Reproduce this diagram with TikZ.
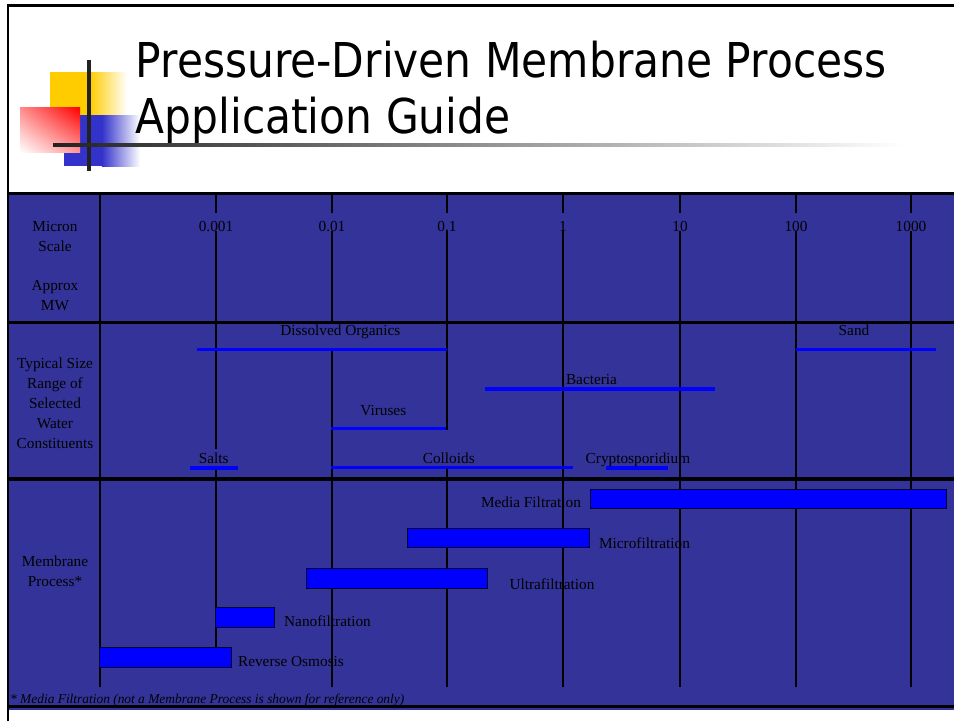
\documentclass[tikz,border=0pt]{standalone}
\usepackage{fontspec}
\usetikzlibrary{shadings}
\setmainfont{Liberation Serif}
\newfontfamily\titlefont[FakeStretch=0.883]{DejaVu Sans}
\definecolor{bg}{HTML}{333399}
\definecolor{barblue}{HTML}{0000FF}
\definecolor{txt}{HTML}{000000}
\definecolor{logoY}{HTML}{FFCC00}
\definecolor{logoB}{HTML}{3333CC}
\definecolor{logoR}{HTML}{FF0000}
\definecolor{logobar}{HTML}{222222}
\begin{document}
\begin{tikzpicture}[x=1pt,y=-1pt,
  lab/.style={font=\fontsize{15.3}{19.5}\selectfont, text=txt, inner sep=0pt, anchor=base},
  gridline/.style={line width=2.3pt, black},
  rowline/.style={line width=3pt, black},
  rng/.style={line width=3.2pt, barblue},
  proc/.style={fill=barblue, draw=black!80!blue, line width=0.9pt},
  ttl/.style={font=\titlefont\fontsize{48}{57}\selectfont, text=black, inner sep=0pt, anchor=base west}]
\useasboundingbox (0,0) rectangle (954,721);
\fill[white] (0,0) rectangle (954,721);

% logo
\fill[logoY] (50,72) rectangle (90,115);
\shade[left color=logoY, right color=white] (89.9,72) rectangle (127,115);
\fill[logoB] (64,115) rectangle (102,166);
\shade[left color=logoB, right color=white] (101.9,115) rectangle (140,166);
\shade[upper left=logoR!45, upper right=logoR, lower left=white, lower right=logoR!40] (20,107.7) rectangle (80,152.7);
\fill[logobar] (87.3,60) rectangle (90.7,171);
\shade[left color=logobar, right color=white] (53,143.3) rectangle (905,146.7);

% title
\node[ttl] (t1) at (135.5,77) {Pressure-Driven Membrane Process};
\node[ttl] (t2) at (135.5,133) {Application Guide};

% table background
\fill[bg] (9.3,193) rectangle (954,710.3);

% vertical grid lines
\foreach \x in {216,332,447,563,680,796,911} \draw[gridline] (\x,193.5) -- (\x,213);
\draw[gridline] (216,231) -- (216,449);
\draw[gridline] (216,466) -- (216,647);
\draw[gridline] (332,231) -- (332,323);
\draw[gridline] (332,348) -- (332,687);
\draw[gridline] (447,231) -- (447,430);
\draw[gridline] (447,466) -- (447,687);
\foreach \x in {563,680,796,911} \draw[gridline] (\x,231) -- (\x,687);
\draw[line width=2.7pt] (100,193.5) -- (100,687);

% horizontal row lines
\draw[rowline] (8,193.5) -- (954,193.5);
\draw[rowline] (8,322.3) -- (954,322.3);
\draw[line width=4pt] (8,478.7) -- (954,478.7);
\draw[rowline] (8,706) -- (954,706);

% slide frame
\draw[line width=2.7pt, miter limit=10] (8,721) -- (8,5.3) -- (954,5.3);

% row headers
\node[lab] (h1a) at (55,231.5) {Micron};
\node[lab] (h1b) at (55,251) {Scale};
\node[lab] (h1c) at (55,290.5) {Approx};
\node[lab] (h1d) at (55,310) {MW};
\node[lab] (h2a) at (55,368.3) {Typical Size};
\node[lab] (h2b) at (55,388.3) {Range of};
\node[lab] (h2c) at (55,408.3) {Selected};
\node[lab] (h2d) at (55,428.3) {Water};
\node[lab] (h2e) at (55,448.3) {Constituents};
\node[lab] (h3a) at (55,566.7) {Membrane};
\node[lab] (h3b) at (55,586) {Process*};

% scale
\node[lab] (s1) at (216,231.5) {0.001};
\node[lab] (s2) at (332,231.5) {0.01};
\node[lab] (s3) at (447,231.5) {0.1};
\node[lab] (s4) at (563,231.5) {1};
\node[lab] (s5) at (680,231.5) {10};
\node[lab] (s6) at (796,231.5) {100};
\node[lab] (s7) at (911,231.5) {1000};

% constituents
\draw[rng] (197,349.7) -- (447,349.7);
\node[lab] (c1) at (340.3,335) {Dissolved Organics};
\draw[rng] (796,349.7) -- (936,349.7);
\node[lab] (c2) at (854,335) {Sand};
\draw[rng] (485,389) -- (715,389);
\node[lab] (c3) at (591.5,384) {Bacteria};
\draw[rng] (331,428.7) -- (446,428.7);
\node[lab] (c4) at (383.3,415.7) {Viruses};
\draw[rng] (190,468) -- (238,468);
\node[lab] (c5) at (213.8,463.3) {Salts};
\draw[rng] (331,467.2) -- (572.7,467.2);
\node[lab] (c6) at (448.8,463.3) {Colloids};
\draw[rng] (606,468) -- (668,468);
\node[lab] (c7) at (638,463.3) {Cryptosporidium};

% membrane processes
\draw[proc] (590.5,489) rectangle (946,508.5);
\node[lab] (p1) at (531,507) {Media Filtration};
\draw[proc] (407.3,528) rectangle (589,547.5);
\node[lab] (p2) at (644.5,548) {Microfiltration};
\draw[proc] (306,568) rectangle (487,588);
\node[lab] (p3) at (552,589) {Ultrafiltration};
\draw[proc] (215,607.3) rectangle (274.3,627);
\node[lab] (p4) at (327.5,626) {Nanofiltration};
\draw[proc] (99.3,647.3) rectangle (231.7,667.3);
\node[lab] (p5) at (291,666) {Reverse Osmosis};

% footnote
\node[font=\fontsize{13.4}{16}\selectfont\itshape, text=txt, inner sep=0pt, anchor=base west] (fn) at (10,703) {* Media Filtration (not a Membrane Process is shown for reference only)};
\end{tikzpicture}
\end{document}
